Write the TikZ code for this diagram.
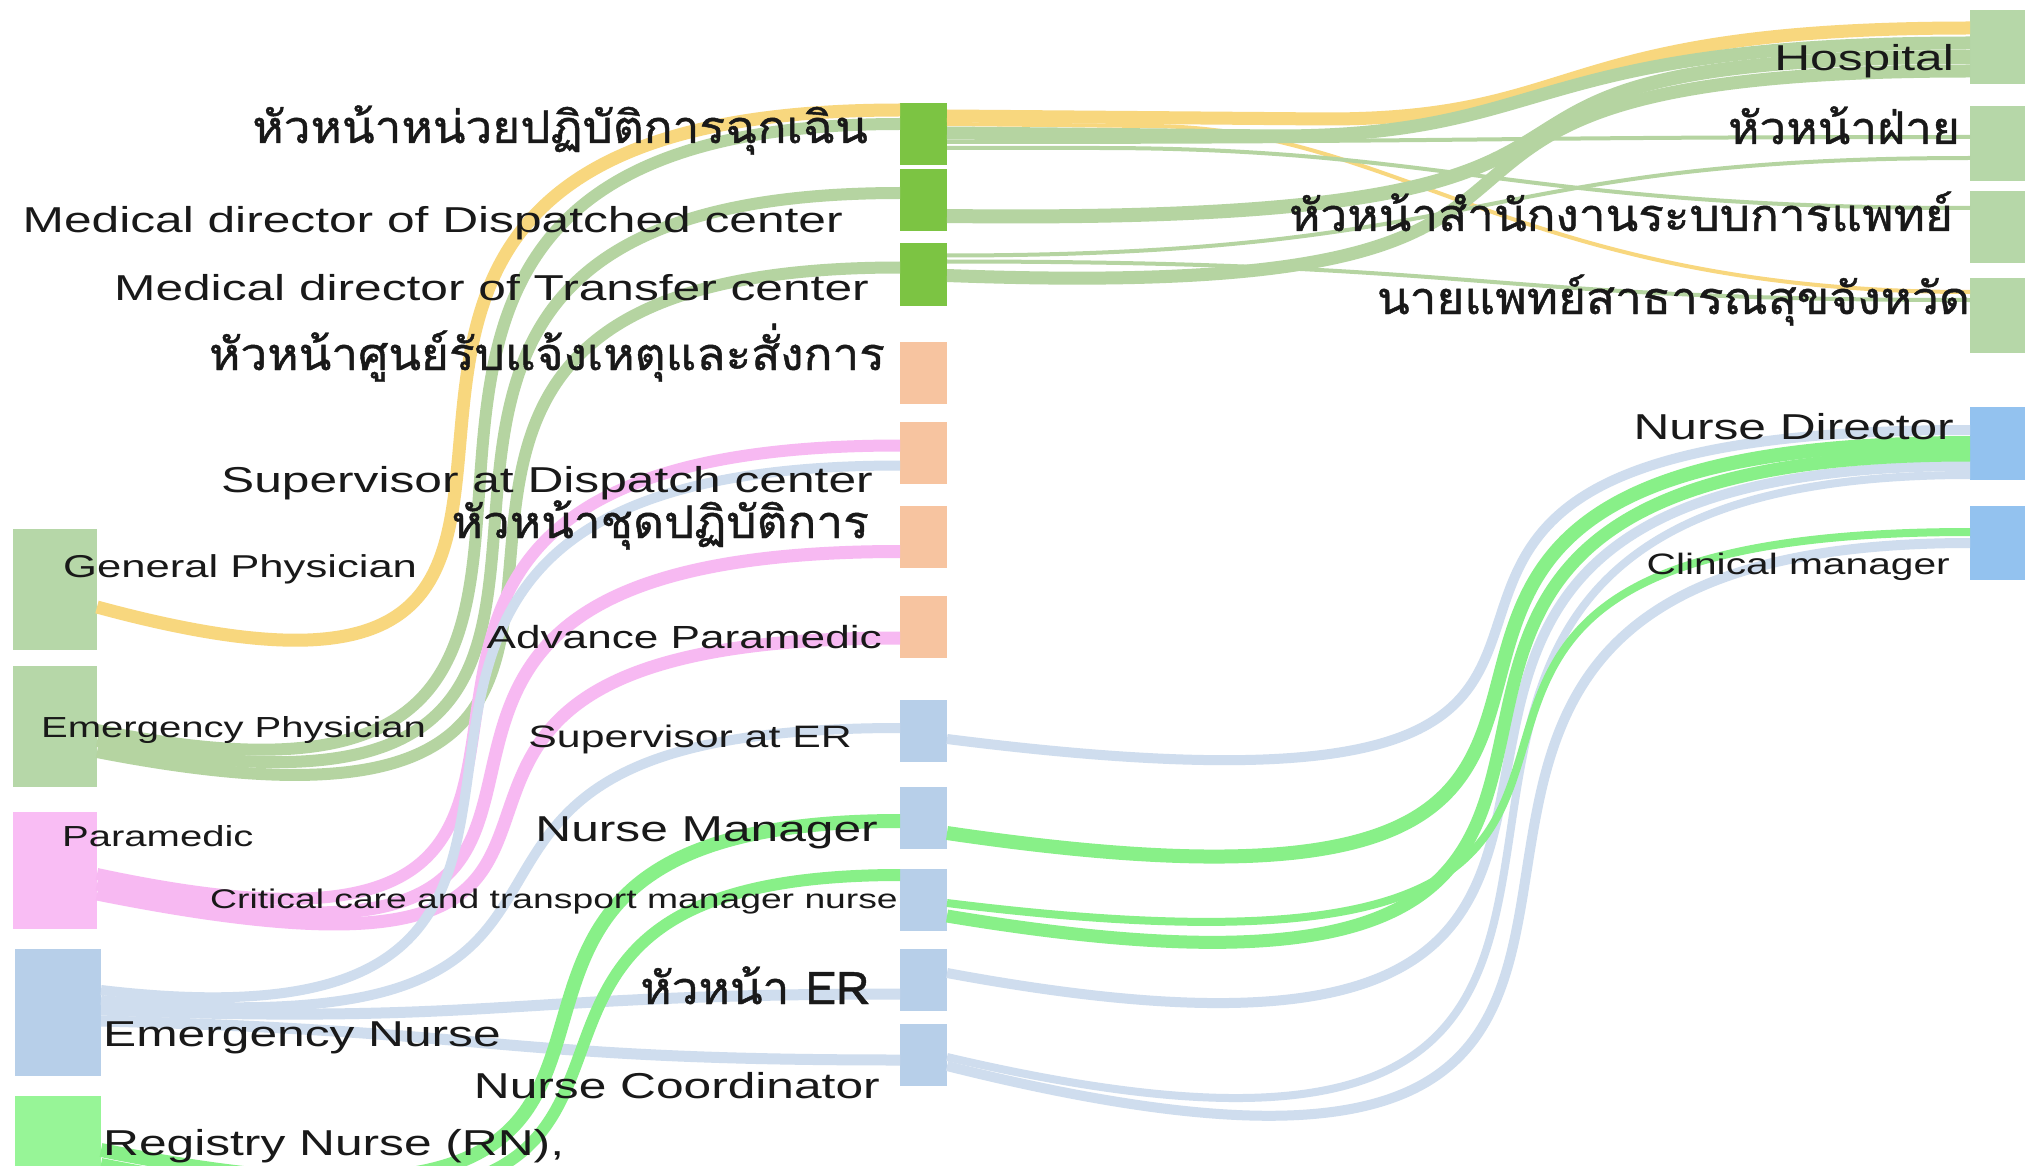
\documentclass[tikz,border=0pt]{standalone}
\usepackage{fontspec}
\setmainfont{Liberation Sans}[FakeStretch=1.38]
\newfontfamily\thai{Loma}[Script=Thai,FakeStretch=1.06,FakeBold=1]
\usepackage{tikz}

\definecolor{sage}{HTML}{B6D7A8}
\definecolor{sageflow}{HTML}{B5D4A1}
\definecolor{leaf}{HTML}{7CC443}
\definecolor{peach}{HTML}{F7C4A0}
\definecolor{pinknode}{HTML}{F9BDF4}
\definecolor{pinkflow}{HTML}{F7B9F2}
\definecolor{lightblue}{HTML}{B7CFE9}
\definecolor{lbflow}{HTML}{CFDDEE}
\definecolor{skyblue}{HTML}{93C2EF}
\definecolor{mint}{HTML}{97F597}
\definecolor{mintflow}{HTML}{88F088}
\definecolor{gold}{HTML}{F8D77E}

\begin{document}
\begin{tikzpicture}[x=1pt, y=-1pt,
  bar/.style={inner sep=0pt, outer sep=0pt, minimum width=47pt, minimum height=62pt},
  flow/.style={line cap=butt},
  lbl/.style={inner sep=0pt, text=black!90, font=\fontsize{36}{40}\selectfont},
  thailbl/.style={inner sep=0pt, text=black!90, font=\thai\fontsize{45}{50}\selectfont}]

\clip (0,0) rectangle (2025,1166);
\fill[white] (0,0) rectangle (2025,1166);

% left column
\node[bar, fill=sage, minimum width=84pt, minimum height=121pt] (gp) at (55,589.5) {};
\node[bar, fill=sage, minimum width=84pt, minimum height=121pt] (ep) at (55,726.5) {};
\node[bar, fill=pinknode, minimum width=84pt, minimum height=117pt] (pm) at (55,870.5) {};
\node[bar, fill=lightblue, minimum width=86pt, minimum height=127pt] (en) at (58,1012.5) {};
\node[bar, fill=mint, minimum width=86pt, minimum height=90pt] (rn) at (58,1141) {};

% middle column
\node[bar, fill=leaf] (m1) at (923.5,134) {};
\node[bar, fill=leaf] (m2) at (923.5,200) {};
\node[bar, fill=leaf] (m3) at (923.5,274.5) {};
\node[bar, fill=peach] (m4) at (923.5,373) {};
\node[bar, fill=peach] (m5) at (923.5,452.5) {};
\node[bar, fill=peach] (m6) at (923.5,536.5) {};
\node[bar, fill=peach] (m7) at (923.5,627) {};
\node[bar, fill=lightblue] (m8) at (923.5,731) {};
\node[bar, fill=lightblue] (m9) at (923.5,818) {};
\node[bar, fill=lightblue] (m10) at (923.5,900) {};
\node[bar, fill=lightblue] (m11) at (923.5,980) {};
\node[bar, fill=lightblue] (m12) at (923.5,1055) {};

% right column
\node[bar, fill=sage, minimum width=55pt, minimum height=74pt] (r1) at (1997.5,47) {};
\node[bar, fill=sage, minimum width=55pt, minimum height=75pt] (r2) at (1997.5,143.5) {};
\node[bar, fill=sage, minimum width=55pt, minimum height=72pt] (r3) at (1997.5,227) {};
\node[bar, fill=sage, minimum width=55pt, minimum height=75pt] (r4) at (1997.5,315.5) {};
\node[bar, fill=skyblue, minimum width=55pt, minimum height=73pt] (r5) at (1997.5,443.5) {};
\node[bar, fill=skyblue, minimum width=55pt, minimum height=74pt] (r6) at (1997.5,543) {};

% flows left to middle
\draw[flow, gold, line width=13pt] ([yshift=-78pt]gp.north east) .. controls +(700,190) and +(-800,0) .. ([yshift=-7pt]m1.north west);
\draw[flow, sageflow, line width=12pt] ([yshift=-64pt]ep.north east) .. controls +(730,150) and +(-780,0) .. ([yshift=-21pt]m1.north west);
\draw[flow, sageflow, line width=12pt] ([yshift=-75pt]ep.north east) .. controls +(750,150) and +(-760,0) .. ([yshift=-24pt]m2.north west);
\draw[flow, sageflow, line width=12pt] ([yshift=-86pt]ep.north east) .. controls +(770,150) and +(-740,0) .. ([yshift=-24pt]m3.north west);
\draw[flow, pinkflow, line width=12pt] ([yshift=-62pt]pm.north east) .. controls +(700,150) and +(-760,0) .. ([yshift=-24pt]m5.north west);
\draw[flow, pinkflow, line width=13pt] ([yshift=-72pt]pm.north east) .. controls +(700,150) and +(-720,0) .. ([yshift=-46pt]m6.north west);
\draw[flow, pinkflow, line width=13pt] ([yshift=-82pt]pm.north east) .. controls +(700,140) and +(-680,0) .. ([yshift=-42pt]m7.north west);
\draw[flow, lbflow, line width=10pt] ([yshift=-41pt]en.north east) .. controls +(680,80) and +(-760,0) .. ([yshift=-44pt]m5.north west);
\draw[flow, lbflow, line width=10pt] ([yshift=-51pt]en.north east) .. controls +(640,60) and +(-600,0) .. ([yshift=-28pt]m8.north west);
\draw[flow, lbflow, line width=11pt] ([yshift=-61pt]en.north east) .. controls +(400,15) and +(-400,0) .. ([yshift=-45pt]m11.north west);
\draw[flow, lbflow, line width=11pt] ([yshift=-72pt]en.north east) .. controls +(400,10) and +(-400,0) .. ([yshift=-36pt]m12.north west);
\draw[flow, mintflow, line width=14pt] ([yshift=-54pt]rn.north east) .. controls +(750,150) and +(-600,0) .. ([yshift=-34pt]m9.north west);
\draw[flow, mintflow, line width=12pt] ([yshift=-68pt]rn.north east) .. controls +(750,150) and +(-560,0) .. ([yshift=-6pt]m10.north west);

% flows middle to right
\draw[flow, gold, line width=4pt] ([yshift=-21pt]m1.north east) -- ++(200,2) .. controls +(250,0) and +(-450,0) .. ([yshift=-14pt]r4.north west);
\draw[flow, gold, line width=13pt] ([yshift=-13pt]m1.north east) -- ++(380,3) .. controls +(260,0) and +(-420,0) .. ([yshift=-18pt]r1.north west);
\draw[flow, sageflow, line width=4pt] ([yshift=-39pt]m1.north east) .. controls +(550,0) and +(-500,0) .. ([yshift=-31pt]r2.north west);
\draw[flow, sageflow, line width=4pt] ([yshift=-45pt]m1.north east) -- ++(150,0) .. controls +(350,0) and +(-450,0) .. ([yshift=-17pt]r3.north west);
\draw[flow, sageflow, line width=13pt] ([yshift=-30pt]m1.north east) -- ++(330,3) .. controls +(280,0) and +(-450,0) .. ([yshift=-33pt]r1.north west);
\draw[flow, sageflow, line width=14pt] ([yshift=-47pt]m2.north east) .. controls +(850,10) and +(-660,0) .. ([yshift=-47pt]r1.north west);
\draw[flow, sageflow, line width=4pt] ([yshift=-12pt]m3.north east) .. controls +(550,0) and +(-500,0) .. ([yshift=-52pt]r2.north west);
\draw[flow, sageflow, line width=4pt] ([yshift=-18pt]m3.north east) .. controls +(550,0) and +(-500,0) .. ([yshift=-22pt]r4.north west);
\draw[flow, sageflow, line width=13pt] ([yshift=-32pt]m3.north east) .. controls +(800,30) and +(-730,0) .. ([yshift=-61pt]r1.north west);
\draw[flow, lbflow, line width=10pt] ([yshift=-39pt]m8.north east) .. controls +(950,120) and +(-850,0) .. ([yshift=-23pt]r5.north west);
\draw[flow, lbflow, line width=8pt] ([yshift=-33pt]m12.north east) .. controls +(980,230) and +(-850,0) .. ([yshift=-68pt]r5.north west);
\draw[flow, lbflow, line width=10pt] ([yshift=-42pt]m12.north east) .. controls +(1000,250) and +(-830,0) .. ([yshift=-37pt]r6.north west);
\draw[flow, lbflow, line width=10pt] ([yshift=-24pt]m11.north east) .. controls +(970,180) and +(-850,0) .. ([yshift=-59pt]r5.north west);
\draw[flow, mintflow, line width=14pt] ([yshift=-46pt]m9.north east) .. controls +(950,140) and +(-850,0) .. ([yshift=-36pt]r5.north west);
\draw[flow, mintflow, line width=8pt] ([yshift=-34pt]m10.north east) .. controls +(970,120) and +(-810,0) .. ([yshift=-26pt]r6.north west);
\draw[flow, mintflow, line width=13pt] ([yshift=-47pt]m10.north east) .. controls +(960,160) and +(-850,0) .. ([yshift=-48pt]r5.north west);

% labels
\node[thailbl, anchor=base east] (l1) at (868,143) {หัวหน้าหน่วยปฏิบัติการฉุกเฉิน};
\node[lbl, anchor=base east] (l2) at (843,233) {Medical director of Dispatched center};
\node[lbl, anchor=base east] (l3) at (869,300) {Medical director of Transfer center};
\node[thailbl, anchor=base east] (l4) at (885,370) {หัวหน้าศูนย์รับแจ้งเหตุและสั่งการ};
\node[lbl, anchor=base east] (l5) at (873,492) {Supervisor at Dispatch center};
\node[thailbl, anchor=base east] (l6) at (869,538) {หัวหน้าชุดปฏิบัติการ};
\node[lbl, anchor=base east, font=\fontsize{32}{36}\selectfont] (l7) at (882,648) {Advance Paramedic};
\node[lbl, anchor=base east, font=\fontsize{31}{35}\selectfont] (l8) at (852,747) {Supervisor at ER};
\node[lbl, anchor=base east] (l9) at (878,841) {Nurse Manager};
\node[lbl, anchor=base east, font=\fontsize{27}{31}\selectfont] (l10) at (898,908) {Critical care and transport manager nurse};
\node[thailbl, anchor=base east] (l11) at (869,1004) {หัวหน้า ER};
\node[lbl, anchor=base east] (l12) at (880,1098) {Nurse Coordinator};

\node[lbl, anchor=base west, font=\fontsize{31.6}{35}\selectfont] (gpl) at (63,577) {General Physician};
\node[lbl, anchor=base west, font=\fontsize{29}{33}\selectfont] (epl) at (41,737) {Emergency Physician};
\node[lbl, anchor=base west, font=\fontsize{29}{33}\selectfont] (pml) at (62,846) {Paramedic};
\node[lbl, anchor=base west] (enl) at (103,1046) {Emergency Nurse};
\node[lbl, anchor=base west] (rnl) at (103,1155) {Registry Nurse (RN),};

\node[lbl, anchor=base east] (r1l) at (1954,71) {Hospital};
\node[thailbl, anchor=base east] (r2l) at (1960,144) {หัวหน้าฝ่าย};
\node[thailbl, anchor=base east] (r3l) at (1953,231) {หัวหน้าสำนักงานระบบการแพทย์};
\node[thailbl, anchor=base east] (r4l) at (1970,314) {นายแพทย์สาธารณสุขจังหวัด};
\node[lbl, anchor=base east] (r5l) at (1954,439) {Nurse Director};
\node[lbl, anchor=base east, font=\fontsize{29.5}{33}\selectfont] (r6l) at (1950,574) {Clinical manager};
\end{tikzpicture}
\end{document}
